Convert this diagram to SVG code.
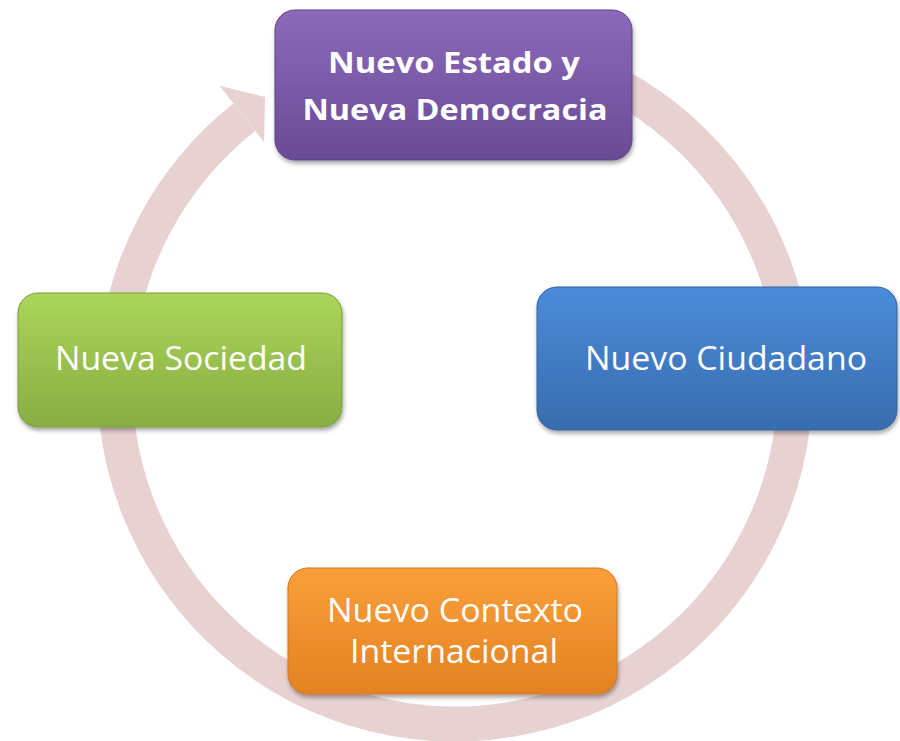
<svg xmlns="http://www.w3.org/2000/svg" width="900" height="741" viewBox="0 0 900 741">
<style>
.ring{fill:none;stroke:#E8D1D1;stroke-width:35}
.head{fill:#E8D1D1}
.box{filter:url(#sh)}
.t{font-family:"Open Sans","Noto Sans","Liberation Sans",sans-serif;fill:#FFFFFF;font-size:33px;text-anchor:middle}
.tb{font-family:"Open Sans","Noto Sans","Liberation Sans",sans-serif;fill:#FFFFFF;font-size:28px;font-weight:bold;text-anchor:middle}
</style>
<defs>
<filter id="sh" x="-10%" y="-10%" width="120%" height="130%">
<feDropShadow dx="1" dy="3" stdDeviation="2" flood-color="#000" flood-opacity="0.35"/>
</filter>
<linearGradient id="gP" x1="0" y1="0" x2="0" y2="1"><stop offset="0" stop-color="#8C69BB"/><stop offset="1" stop-color="#694B94"/></linearGradient>
<linearGradient id="gB" x1="0" y1="0" x2="0" y2="1"><stop offset="0" stop-color="#4B8CDA"/><stop offset="1" stop-color="#386CAE"/></linearGradient>
<linearGradient id="gG" x1="0" y1="0" x2="0" y2="1"><stop offset="0" stop-color="#ABD55B"/><stop offset="1" stop-color="#88AD42"/></linearGradient>
<linearGradient id="gO" x1="0" y1="0" x2="0" y2="1"><stop offset="0" stop-color="#FA9F3A"/><stop offset="1" stop-color="#E38222"/></linearGradient>
</defs>
<g id="connectors">
<path class="ring" d="M571.3,64.5 A340,340 0 1 1 244.3,117.2"/>
<polygon class="head" points="219.5,85.8 265,97 264.1,142.3"/>
</g>
<g id="node-estado">
<rect class="box" x="275" y="10" width="357" height="150" rx="20" fill="url(#gP)" stroke="#5E4386" stroke-width="1"/>
<text class="tb" x="454" y="73" textLength="252" lengthAdjust="spacingAndGlyphs">Nuevo Estado y</text>
<text class="tb" x="455" y="120" textLength="305" lengthAdjust="spacingAndGlyphs">Nueva Democracia</text>
</g>
<g id="node-ciudadano">
<rect class="box" x="537" y="287" width="360" height="143" rx="20" fill="url(#gB)" stroke="#33629E" stroke-width="1"/>
<text class="t" x="726" y="370" textLength="282" lengthAdjust="spacingAndGlyphs">Nuevo Ciudadano</text>
</g>
<g id="node-sociedad">
<rect class="box" x="18" y="293" width="324" height="134" rx="20" fill="url(#gG)" stroke="#7C9E3C" stroke-width="1"/>
<text class="t" x="181" y="370" textLength="252" lengthAdjust="spacingAndGlyphs">Nueva Sociedad</text>
</g>
<g id="node-contexto">
<rect class="box" x="288" y="568" width="329" height="126" rx="20" fill="url(#gO)" stroke="#D0761E" stroke-width="1"/>
<text class="t" x="455" y="622" textLength="256" lengthAdjust="spacingAndGlyphs">Nuevo Contexto</text>
<text class="t" x="454" y="663" textLength="208" lengthAdjust="spacingAndGlyphs">Internacional</text>
</g>
</svg>
